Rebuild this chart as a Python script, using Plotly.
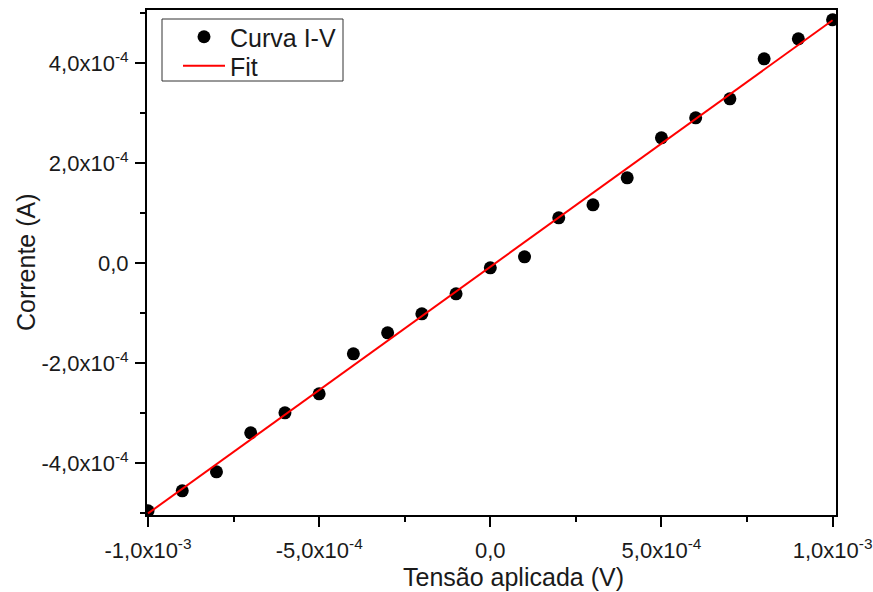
import numpy as np
import plotly.graph_objects as go

# Measured I-V curve
tensao = [-1.0e-3, -0.9e-3, -0.8e-3, -0.7e-3, -0.6e-3, -0.5e-3, -0.4e-3,
          -0.3e-3, -0.2e-3, -0.1e-3, 0.0, 0.1e-3, 0.2e-3, 0.3e-3, 0.4e-3,
          0.5e-3, 0.6e-3, 0.7e-3, 0.8e-3, 0.9e-3, 1.0e-3]
corrente = [-4.95e-4, -4.55e-4, -4.17e-4, -3.39e-4, -2.99e-4, -2.61e-4,
            -1.81e-4, -1.39e-4, -1.01e-4, -0.61e-4, -0.09e-4, 0.13e-4,
            0.91e-4, 1.17e-4, 1.71e-4, 2.51e-4, 2.91e-4, 3.29e-4, 4.09e-4,
            4.49e-4, 4.87e-4]

# Tick positions
x_ticks = [-1.0e-3, -5.0e-4, 0.0, 5.0e-4, 1.0e-3]
y_ticks = [-4.0e-4, -2.0e-4, 0.0, 2.0e-4, 4.0e-4]

# Linear fit of the measured curve
slope, intercept = np.polyfit(tensao, corrente, 1)
fit_x = [tensao[0], tensao[-1]]
fit_y = [slope * v + intercept for v in fit_x]


def sci_label(v):
    """Format like '-5,0x10^-4' with a comma decimal separator."""
    if v == 0:
        return "0,0"
    exp = int(np.floor(np.log10(abs(v))))
    mant = v / 10 ** exp
    return f"{mant:.1f}".replace(".", ",") + f"x10<sup>{exp}</sup>"


FONT = "Liberation Sans, Arial, sans-serif"
TXT = "#1a1a1a"

# Plot-area geometry in pixels (used to place paper-referenced items)
L, R, T, B = 147, 37, 10, 77
PW, PH = 873 - L - R, 592 - T - B


def px_x(px):
    return (px - L) / PW


def px_y(py):
    return (592 - B - py) / PH


fig = go.Figure()
fig.add_trace(go.Scatter(
    x=tensao, y=corrente, mode="markers", name="Curva I-V",
    marker=dict(color="black", size=13, symbol="circle"),
    legend="legend",
))
fig.add_trace(go.Scatter(
    x=fit_x, y=fit_y, mode="lines", name="Fit",
    line=dict(color="#ff0000", width=2),
    legend="legend2",
))

axis_common = dict(
    showline=True, linecolor="black", linewidth=2, mirror=True,
    showgrid=False, zeroline=False, automargin=False,
    ticks="outside", ticklen=10, tickwidth=2, tickcolor="black",
    tickmode="array",
    tickfont=dict(family=FONT, size=22, color=TXT),
)

fig.update_xaxes(
    **axis_common,
    ticklabelstandoff=5,
    range=[-1.003e-3, 1.010e-3],
    tickvals=x_ticks, ticktext=[sci_label(v) for v in x_ticks],
    minor=dict(ticks="outside", ticklen=5, tickwidth=2, tickcolor="black",
               dtick=2.5e-4, tick0=0),
)
fig.update_yaxes(
    **axis_common,
    ticklabelstandoff=2,
    range=[-5.034e-4, 5.066e-4],
    tickvals=y_ticks, ticktext=[sci_label(v) for v in y_ticks],
    minor=dict(ticks="outside", ticklen=5, tickwidth=2, tickcolor="black",
               dtick=1e-4, tick0=0),
)

legend_common = dict(
    xanchor="left", yanchor="middle", borderwidth=0,
    bgcolor="rgba(255,255,255,0)", itemwidth=42,
    font=dict(family=FONT, size=25, color=TXT),
)

fig.update_layout(
    width=873, height=592,
    margin=dict(l=L, r=R, t=T, b=B),
    paper_bgcolor="white", plot_bgcolor="white",
    font=dict(family=FONT, size=25, color=TXT),
    showlegend=True,
    legend=dict(**legend_common, x=px_x(178), y=px_y(37)),
    legend2=dict(**legend_common, x=px_x(178), y=px_y(66)),
    shapes=[
        dict(type="rect", xref="paper", yref="paper",
             x0=px_x(162), x1=px_x(343), y0=px_y(81), y1=px_y(19),
             line=dict(color="#333333", width=1), fillcolor="white",
             layer="below"),
    ],
    annotations=[
        dict(text="Tensão aplicada (V)", xref="paper", yref="paper",
             x=px_x(513), y=px_y(577), xanchor="center", yanchor="middle",
             showarrow=False, font=dict(family=FONT, size=25, color=TXT)),
        dict(text="Corrente (A)", xref="paper", yref="paper",
             x=px_x(26), y=px_y(262), xanchor="center", yanchor="middle",
             textangle=-90, showarrow=False,
             font=dict(family=FONT, size=25, color=TXT)),
    ],
)

fig.write_html("out.html")
